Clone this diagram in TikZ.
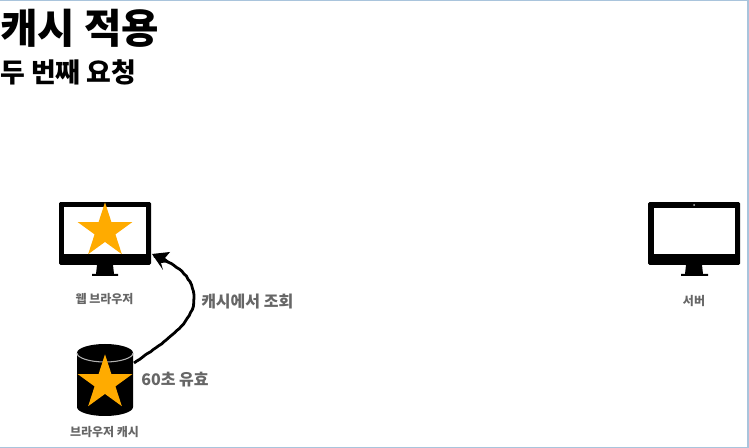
\documentclass[tikz,border=0pt]{standalone}
\usepackage{fontspec}
\setmainfont{Noto Sans CJK KR}
\usetikzlibrary{shapes.geometric,decorations.pathmorphing,arrows.meta}
\definecolor{framec}{HTML}{A9C4DC}
\definecolor{labelc}{HTML}{666666}
\definecolor{starc}{HTML}{FFAB00}
\tikzset{
  x=0.75pt,y=-0.75pt,
  bodybox/.style={fill=black,rounded corners=1pt,minimum width=69pt,minimum height=47pt,inner sep=0,outer sep=0},
  screenbox/.style={fill=white,minimum width=61pt,minimum height=35pt,inner sep=0,outer sep=0},
  starshape/.style={star,star points=5,star point ratio=2.618,fill=starc,minimum size=43pt,inner sep=0,outer sep=0},
  smalllabel/.style={text=labelc,font=\fontsize{9pt}{10pt}\selectfont\bfseries,inner sep=0},
  biglabel/.style={text=labelc,font=\fontsize{12pt}{14pt}\selectfont\bfseries,inner sep=0,anchor=west},
  frameline/.style={draw=framec,line width=1.5pt},
  sketch/.style={line width=2.1pt,black,decorate,decoration={random steps,segment length=2.5pt,amplitude=0.25pt}}
}
\pgfmathsetseed{7}
\begin{document}
\begin{tikzpicture}
\useasboundingbox (0,0) rectangle (749,448);
\fill[white] (0,0) rectangle (749,448);
\draw[frameline] (0,0.5) -- (749,0.5);
\draw[frameline] (748,0) -- (748,448);
\draw[frameline] (0,447.5) -- (749,447.5);

\node[anchor=west,inner sep=0,font=\fontsize{30.5pt}{34pt}\selectfont\bfseries] (title) at (0,28) {캐시 적용};
\node[anchor=west,inner sep=0,font=\fontsize{20.2pt}{24pt}\selectfont\bfseries] (subtitle) at (0,72) {두 번째 요청};

% browser monitor
\fill (97,265) -- (113,265) -- (114,274) -- (118,274) -- (118,276) -- (92,276) -- (92,274) -- (96,274) -- cycle;
\node[bodybox] (browser) at (105,233.5) {};
\node[screenbox] (browserscreen) at (105,230.5) {};
\node[starshape] (browserstar) at (105,231) {};
\node[smalllabel] (browserlabel) at (104.5,299) {웹 브라우저};

% server monitor
\fill (686,265) -- (702,265) -- (703,274) -- (708,274) -- (708,276) -- (681,276) -- (681,274) -- (685,274) -- cycle;
\node[bodybox] (server) at (694,233.5) {};
\node[screenbox] (serverscreen) at (694.5,231) {};
\node[circle,fill=white!75!black,minimum size=1.5pt,inner sep=0] (servercam) at (694,205) {};
\node[smalllabel] (serverlabel) at (694,301) {서버};

% cache cylinder
\node[minimum width=42pt,minimum height=54pt,inner sep=0,outer sep=0] (cache) at (105,380) {};
\fill (77,353) arc[x radius=28,y radius=9,start angle=180,end angle=360] -- (133,407)
  arc[x radius=28,y radius=9,start angle=0,end angle=180] -- cycle;
\draw[white!70!black,line width=0.8pt] (77,353) arc[x radius=28,y radius=9,start angle=180,end angle=0];
\node[starshape] (cachestar) at (105,383) {};
\node[smalllabel] (cachelabel) at (104.5,432) {브라우저 캐시};

% arrow
\coordinate (cacheout) at (134,363);
\coordinate (browserin) at (154,256);
\draw[sketch] (cacheout) .. controls (168,340) and (194,322) .. (194,298)
   .. controls (194,278) and (176,263) .. (browserin);
\fill[line join=round] (152,254) -- (170,252) -- (165,258) -- (170,262) -- (161,263) -- (163,270) -- cycle;

\node[biglabel] (lookup) at (201,301.5) {캐시에서 조회};
\node[biglabel] (ttl) at (141,380) {60초 유효};
\end{tikzpicture}
\end{document}
